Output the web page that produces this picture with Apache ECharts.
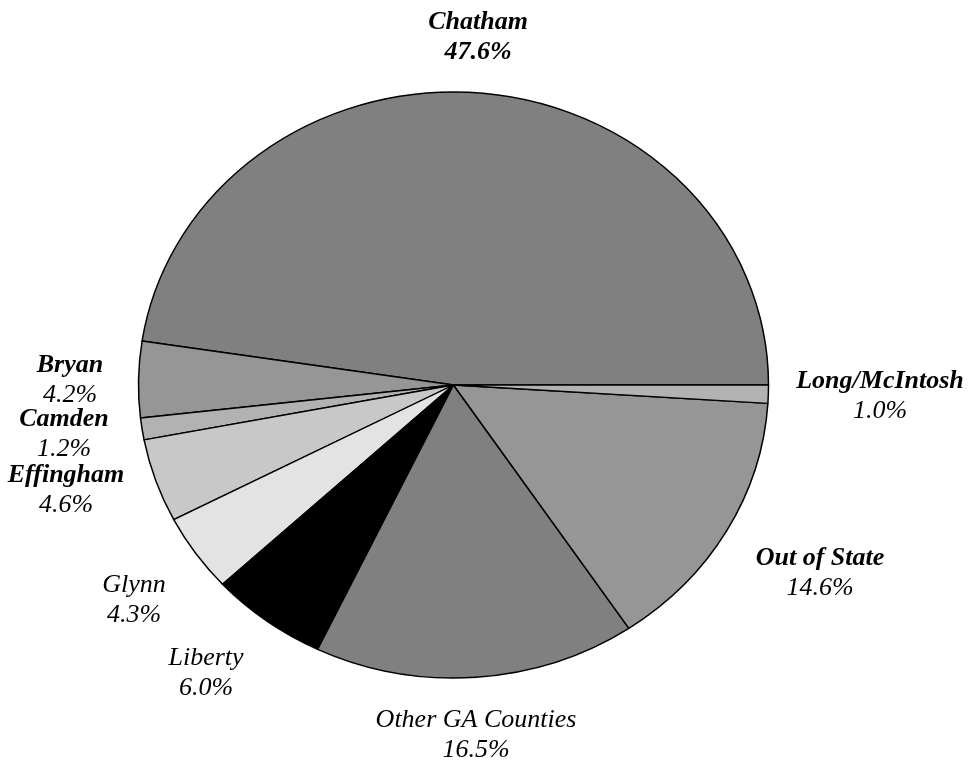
<!DOCTYPE html>
<html>
<head>
<meta charset="utf-8">
<script src="https://cdn.jsdelivr.net/npm/echarts@6.0.0/dist/echarts.min.js"></script>
<style>
  html, body { margin: 0; padding: 0; background: #fff; }
  #chart { width: 969px; height: 762px; }
</style>
</head>
<body>
<div id="chart"></div>
<script>
// data (share of total, %)
var COUNTIES = ['Chatham', 'Bryan', 'Camden', 'Effingham', 'Glynn', 'Liberty', 'Other GA Counties', 'Out of State', 'Long/McIntosh'];
var SHARES = [47.6, 4.2, 1.2, 4.6, 4.3, 6.0, 16.5, 14.6, 1.0];

// styles / layout
var FILLS = ['#808080', '#969696', '#b2b2b2', '#c8c8c8', '#e3e3e3', '#000000', '#808080', '#969696', '#b2b2b2'];
var BOLD_NAME = [true, true, true, true, false, false, false, true, true];
var BOLD_PCT = [true, false, false, false, false, false, false, false, false];
var LABEL_POS = [[478, 37], [70, 380], [64, 434], [66, 490], [134, 600], [206, 673], [476, 735], [820, 573], [880, 396]];

var CX = 453.5, CY = 385, RX = 315, RY = 293;

var myChart = echarts.init(document.getElementById('chart'));

var labels = COUNTIES.map(function (name, i) {
  return {
    type: 'text',
    x: LABEL_POS[i][0],
    y: LABEL_POS[i][1],
    style: {
      text: '{n|' + name + '}\n{p|' + SHARES[i].toFixed(1) + '%}',
      align: 'center',
      verticalAlign: 'middle',
      rich: {
        n: {
          fontFamily: '"Liberation Serif", "Times New Roman", serif',
          fontStyle: 'italic',
          fontWeight: BOLD_NAME[i] ? 'bold' : 'normal',
          fontSize: 26, lineHeight: 30, fill: '#000', align: 'center'
        },
        p: {
          fontFamily: '"Liberation Serif", "Times New Roman", serif',
          fontStyle: 'italic',
          fontWeight: BOLD_PCT[i] ? 'bold' : 'normal',
          fontSize: 26, lineHeight: 30, fill: '#000', align: 'center'
        }
      }
    }
  };
});

var option = {
  backgroundColor: '#fff',
  animation: false,
  graphic: labels,
  series: [{
    type: 'pie',
    center: [CX, CY],
    radius: RX,
    startAngle: 0,
    clockwise: false,
    avoidLabelOverlap: false,
    label: { show: false },
    labelLine: { show: false },
    emphasis: { disabled: true },
    itemStyle: { borderColor: '#000', borderWidth: 1.5 },
    data: COUNTIES.map(function (name, i) {
      return { name: name, value: SHARES[i], itemStyle: { color: FILLS[i] } };
    })
  }]
};
myChart.setOption(option);

// the original pie is slightly flattened: squash the sectors vertically
var zr = myChart.getZr();
zr.storage.getDisplayList(true).forEach(function (el) {
  if (el.type === 'sector') {
    el.originX = el.shape.cx;
    el.originY = el.shape.cy;
    el.scaleY = RY / RX;
    el.markRedraw();
  }
});
zr.refresh();
</script>
</body>
</html>
